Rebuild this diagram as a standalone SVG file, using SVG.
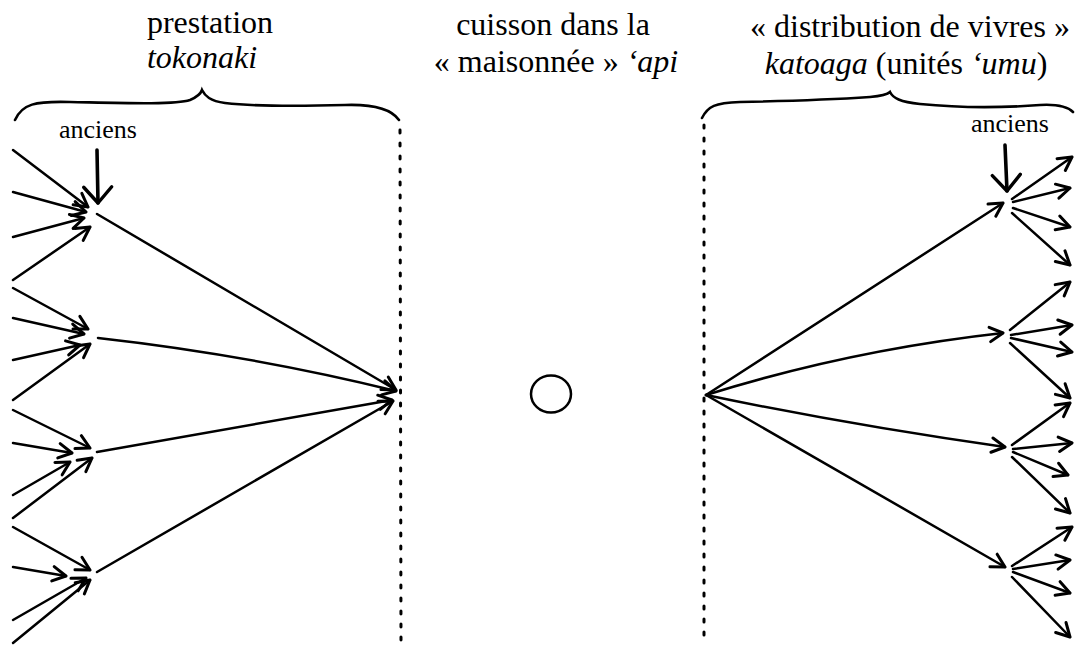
<svg xmlns="http://www.w3.org/2000/svg" width="1075" height="645" viewBox="0 0 1075 645">
<style>
.t{font-family:"Liberation Serif","Times New Roman",serif;font-size:32px;fill:#000}
.s{font-family:"Liberation Serif","Times New Roman",serif;font-size:26px;fill:#000}
.i{font-style:italic}
.c{fill:none;stroke:#000;stroke-width:2.5;stroke-linecap:round}
.b{fill:none;stroke:#000;stroke-width:2.6;stroke-linecap:round}
.d{fill:none;stroke:#000;stroke-width:3;stroke-dasharray:3 10;stroke-linecap:round}
.k{fill:none;stroke:#000;stroke-width:3.6;stroke-linecap:round}
</style>
<defs>
<marker id="h" markerUnits="userSpaceOnUse" markerWidth="24" markerHeight="24" viewBox="-14 -10 18 20" refX="0" refY="0" orient="auto">
<path d="M-11,-6 L0,0 L-11,6" fill="none" stroke="#000" stroke-width="2.5" stroke-linecap="round" stroke-linejoin="round"/>
</marker>
<marker id="hk" markerUnits="userSpaceOnUse" markerWidth="40" markerHeight="40" viewBox="-20 -20 26 40" refX="0" refY="0" orient="auto">
<path d="M-16,-14 L0,0 L-16,14" fill="none" stroke="#000" stroke-width="3.4" stroke-linecap="round" stroke-linejoin="round"/>
</marker>
</defs>
<rect width="1075" height="645" fill="#fff"/>

<g id="title-prestation">
<text class="t" x="210" y="33" text-anchor="middle">prestation</text>
<text class="t i" x="202" y="68" text-anchor="middle">tokonaki</text>
<path class="b" d="M15,120 C22,104 35,101 70,102 C120,103 175,105 190,100 C197,97 201,93 202,90 C205,96 210,101 225,103 C260,107 310,106 345,105 C375,104 392,110 399,120"/>
</g>

<g id="title-cuisson">
<text class="t" x="553" y="35" text-anchor="middle">cuisson dans la</text>
<text class="t" x="556" y="72" text-anchor="middle">« maisonnée » <tspan class="i">‘api</tspan></text>
</g>

<g id="title-distribution">
<text class="t" x="910" y="37" text-anchor="middle">« distribution de vivres »</text>
<text class="t" x="906" y="74" text-anchor="middle"><tspan class="i">katoaga</tspan> (unités <tspan class="i">‘umu</tspan>)</text>
<path class="b" d="M702,118 C708,106 715,103 740,102 C790,101 840,99 870,97 C882,96 888,94 890,92 C893,98 900,102 920,104 C960,108 1000,108 1040,105 C1058,104 1068,107 1073,112"/>
</g>

<g id="anciens-left">
<text class="s" x="98" y="138" text-anchor="middle">anciens</text>
<path class="k" d="M97,150 L98,203" marker-end="url(#hk)"/>
</g>

<g id="anciens-right">
<text class="s" x="1010" y="132" text-anchor="middle">anciens</text>
<path class="k" d="M1005,145 L1007,191" marker-end="url(#hk)"/>
</g>

<g id="separators">
<path class="d" d="M400,130 L401,640"/>
<path class="d" d="M704,125 L704,640"/>
</g>

<g id="cuisson-api">
<ellipse class="c" cx="551" cy="394" rx="20" ry="18.5"/>
</g>

<g id="connectors">
<path class="c" d="M13,150 L88,207" marker-end="url(#h)"/>
<path class="c" d="M13,192 L86,212" marker-end="url(#h)"/>
<path class="c" d="M13,237 L84,218" marker-end="url(#h)"/>
<path class="c" d="M13,280 L90,227" marker-end="url(#h)"/>
<path class="c" d="M13,288 L88,329" marker-end="url(#h)"/>
<path class="c" d="M13,318 L84,334" marker-end="url(#h)"/>
<path class="c" d="M13,360 L80,345" marker-end="url(#h)"/>
<path class="c" d="M13,400 L90,344" marker-end="url(#h)"/>
<path class="c" d="M13,410 L90,448" marker-end="url(#h)"/>
<path class="c" d="M13,443 L72,453" marker-end="url(#h)"/>
<path class="c" d="M13,495 L70,462" marker-end="url(#h)"/>
<path class="c" d="M13,518 L92,458" marker-end="url(#h)"/>
<path class="c" d="M13,527 L90,570" marker-end="url(#h)"/>
<path class="c" d="M13,567 L66,576" marker-end="url(#h)"/>
<path class="c" d="M13,620 L86,578" marker-end="url(#h)"/>
<path class="c" d="M13,643 L90,580" marker-end="url(#h)"/>
<path class="c" d="M97,214 L396,390" marker-end="url(#h)"/>
<path class="c" d="M98,338 Q250,355 396,391" marker-end="url(#h)"/>
<path class="c" d="M97,452 L392,400" marker-end="url(#h)"/>
<path class="c" d="M97,572 L393,401" marker-end="url(#h)"/>
<path class="c" d="M706,395 L1003,203" marker-end="url(#h)"/>
<path class="c" d="M706,395 Q850,350 1003,333" marker-end="url(#h)"/>
<path class="c" d="M706,395 Q850,425 1005,447" marker-end="url(#h)"/>
<path class="c" d="M706,395 L1005,567" marker-end="url(#h)"/>
<path class="c" d="M1012,199 L1072,157" marker-end="url(#h)"/>
<path class="c" d="M1013,202 L1070,188" marker-end="url(#h)"/>
<path class="c" d="M1013,208 L1070,227" marker-end="url(#h)"/>
<path class="c" d="M1012,213 L1070,265" marker-end="url(#h)"/>
<path class="c" d="M1010,330 L1070,282" marker-end="url(#h)"/>
<path class="c" d="M1011,335 L1072,325" marker-end="url(#h)"/>
<path class="c" d="M1011,338 L1072,352" marker-end="url(#h)"/>
<path class="c" d="M1010,343 L1070,398" marker-end="url(#h)"/>
<path class="c" d="M1012,445 L1070,403" marker-end="url(#h)"/>
<path class="c" d="M1013,449 L1072,443" marker-end="url(#h)"/>
<path class="c" d="M1013,452 L1068,475" marker-end="url(#h)"/>
<path class="c" d="M1012,457 L1070,513" marker-end="url(#h)"/>
<path class="c" d="M1012,566 L1072,527" marker-end="url(#h)"/>
<path class="c" d="M1013,569 L1070,560" marker-end="url(#h)"/>
<path class="c" d="M1013,572 L1070,593" marker-end="url(#h)"/>
<path class="c" d="M1012,577 L1070,637" marker-end="url(#h)"/>
</g>
</svg>
